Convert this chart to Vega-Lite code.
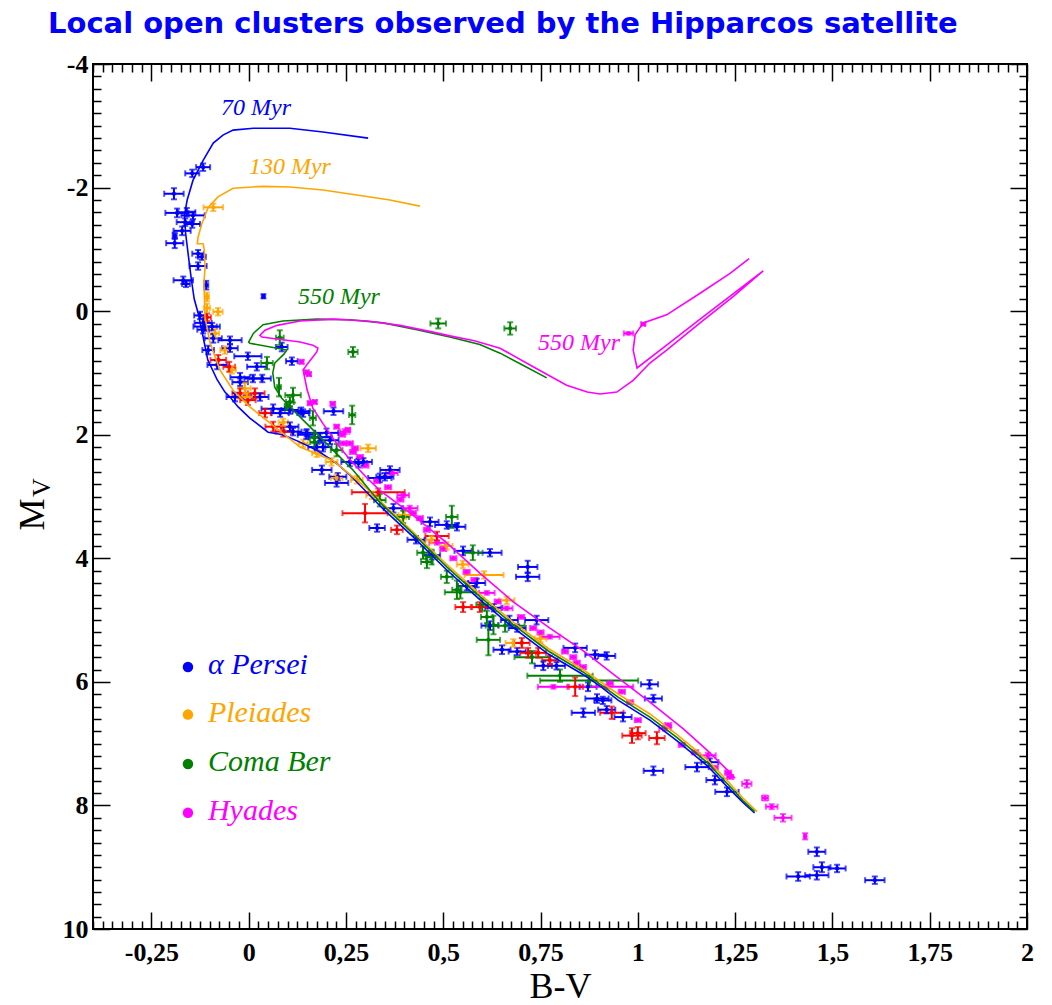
{
"$schema":"https://vega.github.io/schema/vega-lite/v6.json",
"width":934,"height":865,
"autosize":{"type":"none"},
"padding":{"left":93,"top":64,"right":25,"bottom":76},
"background":"white",
"title":{"text":"Local open clusters observed by the Hipparcos satellite","color":"#0000ff","font":"DejaVu Sans","fontSize":29,"fontWeight":"bold","anchor":"start","frame":"group","dx":-45,"offset":-11,"baseline":"alphabetic"},
"config":{"view":{"stroke":"black","strokeWidth":2}},
"datasets":{
"pts":[
{"c":"A","bv":-0.117,"mv":-2.33,"xe":0.018,"ye":0.06},
{"c":"A","bv":-0.145,"mv":-2.23,"xe":0.018,"ye":0.06},
{"c":"A","bv":-0.192,"mv":-1.9,"xe":0.025,"ye":0.09},
{"c":"A","bv":-0.184,"mv":-1.59,"xe":0.03,"ye":0.07},
{"c":"A","bv":-0.159,"mv":-1.6,"xe":0.022,"ye":0.07},
{"c":"A","bv":-0.143,"mv":-1.55,"xe":0.03,"ye":0.06},
{"c":"A","bv":-0.163,"mv":-1.44,"xe":0.022,"ye":0.06},
{"c":"A","bv":-0.145,"mv":-1.41,"xe":0.02,"ye":0.06},
{"c":"A","bv":-0.171,"mv":-1.3,"xe":0.022,"ye":0.07},
{"c":"A","bv":-0.19,"mv":-1.22,"xe":0.005,"ye":0.05},
{"c":"A","bv":-0.19,"mv":-1.1,"xe":0.022,"ye":0.08},
{"c":"A","bv":-0.13,"mv":-0.93,"xe":0.015,"ye":0.06},
{"c":"A","bv":-0.12,"mv":-0.88,"xe":0.01,"ye":0.05},
{"c":"A","bv":-0.13,"mv":-0.73,"xe":0.022,"ye":0.06},
{"c":"A","bv":-0.168,"mv":-0.5,"xe":0.025,"ye":0.06},
{"c":"A","bv":-0.161,"mv":-0.44,"xe":0.01,"ye":0.05},
{"c":"A","bv":-0.109,"mv":-0.42,"xe":0.005,"ye":0.07},
{"c":"A","bv":0.038,"mv":-0.24,"xe":0.003,"ye":0.03},
{"c":"A","bv":-0.125,"mv":0.07,"xe":0.015,"ye":0.06},
{"c":"A","bv":-0.117,"mv":0.19,"xe":0.022,"ye":0.07},
{"c":"A","bv":-0.112,"mv":0.25,"xe":0.03,"ye":0.07},
{"c":"A","bv":-0.094,"mv":0.25,"xe":0.02,"ye":0.06},
{"c":"A","bv":-0.117,"mv":0.3,"xe":0.015,"ye":0.06},
{"c":"A","bv":-0.091,"mv":0.44,"xe":0.022,"ye":0.07},
{"c":"A","bv":-0.048,"mv":0.47,"xe":0.03,"ye":0.06},
{"c":"A","bv":-0.104,"mv":0.63,"xe":0.015,"ye":0.07},
{"c":"A","bv":-0.048,"mv":0.6,"xe":0.02,"ye":0.06},
{"c":"A","bv":-0.002,"mv":0.73,"xe":0.035,"ye":0.06},
{"c":"A","bv":-0.081,"mv":0.87,"xe":0.025,"ye":0.07},
{"c":"A","bv":0.021,"mv":0.9,"xe":0.025,"ye":0.06},
{"c":"A","bv":0.085,"mv":0.58,"xe":0.015,"ye":0.07},
{"c":"A","bv":0.111,"mv":0.81,"xe":0.015,"ye":0.06},
{"c":"A","bv":-0.022,"mv":1.07,"xe":0.025,"ye":0.07},
{"c":"A","bv":-0.022,"mv":1.15,"xe":0.02,"ye":0.06},
{"c":"A","bv":0.011,"mv":1.09,"xe":0.022,"ye":0.06},
{"c":"A","bv":0.035,"mv":1.09,"xe":0.022,"ye":0.06},
{"c":"A","bv":-0.035,"mv":1.39,"xe":0.022,"ye":0.07},
{"c":"A","bv":0.029,"mv":1.39,"xe":0.022,"ye":0.06},
{"c":"A","bv":0.063,"mv":1.58,"xe":0.03,"ye":0.07},
{"c":"A","bv":0.106,"mv":1.6,"xe":0.022,"ye":0.06},
{"c":"A","bv":0.135,"mv":1.62,"xe":0.022,"ye":0.06},
{"c":"A","bv":0.081,"mv":1.65,"xe":0.022,"ye":0.06},
{"c":"A","bv":0.14,"mv":1.65,"xe":0.015,"ye":0.06},
{"c":"A","bv":0.106,"mv":1.87,"xe":0.022,"ye":0.07},
{"c":"A","bv":0.114,"mv":1.95,"xe":0.022,"ye":0.06},
{"c":"A","bv":0.218,"mv":1.62,"xe":0.025,"ye":0.06},
{"c":"A","bv":0.148,"mv":2.0,"xe":0.022,"ye":0.07},
{"c":"A","bv":0.183,"mv":2.04,"xe":0.03,"ye":0.06},
{"c":"A","bv":0.191,"mv":2.2,"xe":0.022,"ye":0.07},
{"c":"A","bv":0.209,"mv":2.09,"xe":0.022,"ye":0.06},
{"c":"A","bv":0.188,"mv":2.57,"xe":0.025,"ye":0.07},
{"c":"A","bv":0.226,"mv":2.78,"xe":0.03,"ye":0.06},
{"c":"A","bv":0.26,"mv":2.44,"xe":0.022,"ye":0.07},
{"c":"A","bv":0.282,"mv":2.46,"xe":0.022,"ye":0.07},
{"c":"A","bv":0.363,"mv":2.57,"xe":0.025,"ye":0.06},
{"c":"A","bv":0.337,"mv":2.7,"xe":0.03,"ye":0.07},
{"c":"A","bv":0.35,"mv":2.68,"xe":0.022,"ye":0.06},
{"c":"A","bv":0.149,"mv":1.97,"xe":0.022,"ye":0.06},
{"c":"A","bv":0.2,"mv":1.97,"xe":0.03,"ye":0.07},
{"c":"A","bv":0.175,"mv":2.2,"xe":0.022,"ye":0.06},
{"c":"A","bv":0.229,"mv":2.68,"xe":0.022,"ye":0.06},
{"c":"A","bv":0.295,"mv":2.44,"xe":0.022,"ye":0.06},
{"c":"A","bv":0.372,"mv":3.19,"xe":0.025,"ye":0.07},
{"c":"A","bv":0.33,"mv":3.51,"xe":0.02,"ye":0.06},
{"c":"A","bv":0.466,"mv":3.41,"xe":0.022,"ye":0.07},
{"c":"A","bv":0.509,"mv":3.46,"xe":0.03,"ye":0.06},
{"c":"A","bv":0.535,"mv":3.49,"xe":0.022,"ye":0.06},
{"c":"A","bv":0.551,"mv":3.88,"xe":0.022,"ye":0.07},
{"c":"A","bv":0.62,"mv":3.91,"xe":0.03,"ye":0.06},
{"c":"A","bv":0.717,"mv":4.14,"xe":0.025,"ye":0.1},
{"c":"A","bv":0.717,"mv":4.3,"xe":0.03,"ye":0.07},
{"c":"A","bv":0.586,"mv":4.4,"xe":0.022,"ye":0.07},
{"c":"A","bv":0.74,"mv":5.0,"xe":0.03,"ye":0.07},
{"c":"A","bv":0.62,"mv":5.09,"xe":0.022,"ye":0.07},
{"c":"A","bv":0.69,"mv":5.13,"xe":0.022,"ye":0.06},
{"c":"A","bv":0.651,"mv":5.48,"xe":0.022,"ye":0.07},
{"c":"A","bv":0.69,"mv":5.51,"xe":0.022,"ye":0.06},
{"c":"A","bv":0.839,"mv":5.45,"xe":0.03,"ye":0.07},
{"c":"A","bv":0.89,"mv":5.56,"xe":0.025,"ye":0.07},
{"c":"A","bv":0.92,"mv":5.58,"xe":0.022,"ye":0.06},
{"c":"A","bv":0.757,"mv":5.74,"xe":0.022,"ye":0.07},
{"c":"A","bv":0.791,"mv":5.74,"xe":0.022,"ye":0.06},
{"c":"A","bv":0.872,"mv":6.08,"xe":0.022,"ye":0.07},
{"c":"A","bv":1.03,"mv":6.04,"xe":0.022,"ye":0.07},
{"c":"A","bv":1.04,"mv":6.27,"xe":0.022,"ye":0.06},
{"c":"A","bv":0.895,"mv":6.27,"xe":0.03,"ye":0.07},
{"c":"A","bv":0.91,"mv":6.3,"xe":0.022,"ye":0.06},
{"c":"A","bv":0.86,"mv":6.5,"xe":0.03,"ye":0.07},
{"c":"A","bv":0.92,"mv":6.45,"xe":0.022,"ye":0.06},
{"c":"A","bv":0.962,"mv":6.57,"xe":0.022,"ye":0.07},
{"c":"A","bv":1.04,"mv":7.44,"xe":0.025,"ye":0.07},
{"c":"A","bv":1.152,"mv":7.38,"xe":0.03,"ye":0.07},
{"c":"A","bv":1.185,"mv":7.3,"xe":0.022,"ye":0.06},
{"c":"A","bv":1.198,"mv":7.59,"xe":0.022,"ye":0.07},
{"c":"A","bv":1.229,"mv":7.78,"xe":0.03,"ye":0.07},
{"c":"A","bv":1.46,"mv":8.75,"xe":0.022,"ye":0.07},
{"c":"A","bv":1.473,"mv":9.0,"xe":0.022,"ye":0.08},
{"c":"A","bv":1.512,"mv":9.02,"xe":0.022,"ye":0.06},
{"c":"A","bv":1.412,"mv":9.15,"xe":0.03,"ye":0.07},
{"c":"A","bv":1.46,"mv":9.13,"xe":0.03,"ye":0.07},
{"c":"A","bv":1.609,"mv":9.21,"xe":0.025,"ye":0.06},
{"c":"A","bv":0.43,"mv":3.7,"xe":0.022,"ye":0.06},
{"c":"A","bv":0.47,"mv":3.95,"xe":0.022,"ye":0.07},
{"c":"A","bv":0.56,"mv":4.45,"xe":0.022,"ye":0.07},
{"c":"A","bv":0.63,"mv":4.8,"xe":0.022,"ye":0.06},
{"c":"A","bv":0.67,"mv":5.0,"xe":0.022,"ye":0.07},
{"c":"P","bv":-0.091,"mv":-1.68,"xe":0.025,"ye":0.06},
{"c":"P","bv":-0.107,"mv":-0.23,"xe":0.005,"ye":0.07},
{"c":"P","bv":-0.107,"mv":-0.05,"xe":0.008,"ye":0.07},
{"c":"P","bv":-0.079,"mv":0.01,"xe":0.012,"ye":0.06},
{"c":"P","bv":-0.086,"mv":0.36,"xe":0.01,"ye":0.07},
{"c":"P","bv":-0.061,"mv":0.63,"xe":0.012,"ye":0.06},
{"c":"P","bv":-0.043,"mv":0.95,"xe":0.01,"ye":0.06},
{"c":"P","bv":-0.01,"mv":1.25,"xe":0.015,"ye":0.09},
{"c":"P","bv":-0.004,"mv":1.39,"xe":0.015,"ye":0.07},
{"c":"P","bv":0.089,"mv":1.8,"xe":0.012,"ye":0.06},
{"c":"P","bv":0.14,"mv":2.14,"xe":0.012,"ye":0.06},
{"c":"P","bv":0.175,"mv":2.3,"xe":0.012,"ye":0.06},
{"c":"P","bv":0.213,"mv":2.44,"xe":0.015,"ye":0.06},
{"c":"P","bv":0.307,"mv":2.22,"xe":0.02,"ye":0.06},
{"c":"P","bv":0.226,"mv":2.7,"xe":0.015,"ye":0.06},
{"c":"P","bv":0.278,"mv":2.73,"xe":0.015,"ye":0.06},
{"c":"P","bv":0.317,"mv":2.98,"xe":0.015,"ye":0.06},
{"c":"P","bv":0.509,"mv":3.8,"xe":0.015,"ye":0.06},
{"c":"P","bv":0.605,"mv":4.27,"xe":0.05,"ye":0.06},
{"c":"P","bv":0.663,"mv":4.68,"xe":0.02,"ye":0.06},
{"c":"P","bv":0.68,"mv":5.37,"xe":0.02,"ye":0.06},
{"c":"P","bv":0.4,"mv":3.3,"xe":0.015,"ye":0.06},
{"c":"P","bv":0.47,"mv":3.7,"xe":0.015,"ye":0.06},
{"c":"P","bv":0.75,"mv":5.3,"xe":0.015,"ye":0.06},
{"c":"P","bv":0.55,"mv":4.1,"xe":0.015,"ye":0.06},
{"c":"C","bv":0.487,"mv":0.2,"xe":0.02,"ye":0.08},
{"c":"C","bv":0.672,"mv":0.28,"xe":0.015,"ye":0.1},
{"c":"C","bv":0.268,"mv":0.66,"xe":0.012,"ye":0.08},
{"c":"C","bv":0.08,"mv":0.43,"xe":0.01,"ye":0.12},
{"c":"C","bv":0.047,"mv":0.84,"xe":0.015,"ye":0.1},
{"c":"C","bv":0.078,"mv":1.23,"xe":0.005,"ye":0.15},
{"c":"C","bv":0.114,"mv":1.36,"xe":0.02,"ye":0.12},
{"c":"C","bv":0.106,"mv":1.47,"xe":0.01,"ye":0.08},
{"c":"C","bv":0.098,"mv":1.55,"xe":0.005,"ye":0.05},
{"c":"C","bv":0.165,"mv":1.73,"xe":0.008,"ye":0.12},
{"c":"C","bv":0.266,"mv":1.68,"xe":0.008,"ye":0.15},
{"c":"C","bv":0.168,"mv":2.05,"xe":0.012,"ye":0.08},
{"c":"C","bv":0.17,"mv":2.12,"xe":0.012,"ye":0.08},
{"c":"C","bv":0.226,"mv":2.25,"xe":0.015,"ye":0.1},
{"c":"C","bv":0.337,"mv":3.06,"xe":0.015,"ye":0.1},
{"c":"C","bv":0.397,"mv":3.33,"xe":0.015,"ye":0.1},
{"c":"C","bv":0.522,"mv":3.33,"xe":0.015,"ye":0.18},
{"c":"C","bv":0.576,"mv":3.91,"xe":0.025,"ye":0.12},
{"c":"C","bv":0.448,"mv":3.91,"xe":0.015,"ye":0.1},
{"c":"C","bv":0.458,"mv":4.06,"xe":0.015,"ye":0.1},
{"c":"C","bv":0.509,"mv":4.3,"xe":0.015,"ye":0.1},
{"c":"C","bv":0.535,"mv":4.51,"xe":0.012,"ye":0.15},
{"c":"C","bv":0.544,"mv":4.55,"xe":0.04,"ye":0.1},
{"c":"C","bv":0.612,"mv":4.95,"xe":0.015,"ye":0.1},
{"c":"C","bv":0.629,"mv":5.08,"xe":0.012,"ye":0.15},
{"c":"C","bv":0.659,"mv":5.09,"xe":0.05,"ye":0.1},
{"c":"C","bv":0.616,"mv":5.32,"xe":0.03,"ye":0.25},
{"c":"C","bv":0.728,"mv":5.6,"xe":0.045,"ye":0.1},
{"c":"C","bv":0.8,"mv":5.9,"xe":0.084,"ye":0.1},
{"c":"C","bv":0.875,"mv":5.98,"xe":0.126,"ye":0.08},
{"c":"C","bv":0.6,"mv":4.75,"xe":0.015,"ye":0.1},
{"c":"C","bv":0.47,"mv":3.98,"xe":0.015,"ye":0.12},
{"c":"H","bv":0.976,"mv":0.36,"xe":0.012,"ye":0.02},
{"c":"H","bv":1.014,"mv":0.21,"xe":0.005,"ye":0.02},
{"c":"H","bv":0.136,"mv":0.82,"xe":0.005,"ye":0.03},
{"c":"H","bv":0.149,"mv":0.99,"xe":0.005,"ye":0.03},
{"c":"H","bv":0.155,"mv":1.02,"xe":0.005,"ye":0.03},
{"c":"H","bv":0.157,"mv":1.49,"xe":0.005,"ye":0.03},
{"c":"H","bv":0.17,"mv":1.47,"xe":0.005,"ye":0.03},
{"c":"H","bv":0.216,"mv":1.5,"xe":0.006,"ye":0.03},
{"c":"H","bv":0.226,"mv":1.87,"xe":0.006,"ye":0.03},
{"c":"H","bv":0.247,"mv":1.95,"xe":0.012,"ye":0.04},
{"c":"H","bv":0.255,"mv":1.92,"xe":0.006,"ye":0.03},
{"c":"H","bv":0.243,"mv":2.14,"xe":0.008,"ye":0.03},
{"c":"H","bv":0.26,"mv":2.14,"xe":0.008,"ye":0.03},
{"c":"H","bv":0.268,"mv":2.28,"xe":0.008,"ye":0.03},
{"c":"H","bv":0.286,"mv":2.36,"xe":0.008,"ye":0.03},
{"c":"H","bv":0.24,"mv":2.0,"xe":0.008,"ye":0.03},
{"c":"H","bv":0.273,"mv":2.22,"xe":0.008,"ye":0.03},
{"c":"H","bv":0.368,"mv":2.62,"xe":0.015,"ye":0.03},
{"c":"H","bv":0.358,"mv":2.85,"xe":0.008,"ye":0.03},
{"c":"H","bv":0.397,"mv":2.98,"xe":0.015,"ye":0.03},
{"c":"H","bv":0.414,"mv":3.19,"xe":0.02,"ye":0.04},
{"c":"H","bv":0.422,"mv":3.27,"xe":0.008,"ye":0.03},
{"c":"H","bv":0.44,"mv":3.35,"xe":0.008,"ye":0.03},
{"c":"H","bv":0.458,"mv":3.54,"xe":0.008,"ye":0.03},
{"c":"H","bv":0.484,"mv":3.75,"xe":0.02,"ye":0.03},
{"c":"H","bv":0.526,"mv":4.0,"xe":0.008,"ye":0.03},
{"c":"H","bv":0.56,"mv":4.22,"xe":0.008,"ye":0.03},
{"c":"H","bv":0.612,"mv":4.56,"xe":0.02,"ye":0.03},
{"c":"H","bv":0.663,"mv":4.81,"xe":0.015,"ye":0.03},
{"c":"H","bv":0.731,"mv":5.13,"xe":0.008,"ye":0.03},
{"c":"H","bv":0.774,"mv":5.27,"xe":0.025,"ye":0.03},
{"c":"H","bv":0.813,"mv":5.51,"xe":0.008,"ye":0.03},
{"c":"H","bv":0.834,"mv":5.6,"xe":0.008,"ye":0.03},
{"c":"H","bv":0.843,"mv":5.69,"xe":0.008,"ye":0.03},
{"c":"H","bv":0.859,"mv":5.76,"xe":0.008,"ye":0.03},
{"c":"H","bv":0.783,"mv":6.08,"xe":0.04,"ye":0.03},
{"c":"H","bv":0.92,"mv":6.08,"xe":0.068,"ye":0.03},
{"c":"H","bv":0.928,"mv":6.02,"xe":0.008,"ye":0.03},
{"c":"H","bv":0.959,"mv":6.16,"xe":0.008,"ye":0.03},
{"c":"H","bv":0.98,"mv":6.33,"xe":0.008,"ye":0.03},
{"c":"H","bv":1.0,"mv":6.62,"xe":0.008,"ye":0.03},
{"c":"H","bv":1.07,"mv":6.75,"xe":0.015,"ye":0.04},
{"c":"H","bv":1.078,"mv":6.7,"xe":0.008,"ye":0.03},
{"c":"H","bv":1.113,"mv":7.02,"xe":0.008,"ye":0.03},
{"c":"H","bv":1.147,"mv":7.14,"xe":0.008,"ye":0.03},
{"c":"H","bv":1.18,"mv":7.19,"xe":0.02,"ye":0.04},
{"c":"H","bv":1.198,"mv":7.39,"xe":0.008,"ye":0.03},
{"c":"H","bv":1.232,"mv":7.47,"xe":0.008,"ye":0.03},
{"c":"H","bv":1.237,"mv":7.54,"xe":0.008,"ye":0.03},
{"c":"H","bv":1.28,"mv":7.65,"xe":0.012,"ye":0.06},
{"c":"H","bv":1.327,"mv":7.88,"xe":0.008,"ye":0.04},
{"c":"H","bv":1.344,"mv":8.02,"xe":0.015,"ye":0.04},
{"c":"H","bv":1.373,"mv":8.2,"xe":0.022,"ye":0.06},
{"c":"H","bv":1.43,"mv":8.5,"xe":0.003,"ye":0.05},
{"c":"H","bv":0.3,"mv":2.5,"xe":0.008,"ye":0.03},
{"c":"H","bv":0.33,"mv":2.75,"xe":0.008,"ye":0.03},
{"c":"H","bv":0.39,"mv":3.05,"xe":0.008,"ye":0.03},
{"c":"H","bv":0.5,"mv":3.85,"xe":0.008,"ye":0.03},
{"c":"H","bv":0.58,"mv":4.35,"xe":0.008,"ye":0.03},
{"c":"H","bv":0.64,"mv":4.7,"xe":0.008,"ye":0.03},
{"c":"H","bv":0.7,"mv":4.95,"xe":0.008,"ye":0.03},
{"c":"H","bv":0.75,"mv":5.2,"xe":0.008,"ye":0.03},
{"c":"R","bv":-0.107,"mv":0.1,"xe":0.01,"ye":0.06},
{"c":"R","bv":-0.078,"mv":0.79,"xe":0.02,"ye":0.08},
{"c":"R","bv":-0.05,"mv":0.9,"xe":0.015,"ye":0.08},
{"c":"R","bv":-0.022,"mv":1.33,"xe":0.02,"ye":0.08},
{"c":"R","bv":0.016,"mv":1.33,"xe":0.025,"ye":0.08},
{"c":"R","bv":-0.002,"mv":1.44,"xe":0.02,"ye":0.08},
{"c":"R","bv":0.042,"mv":1.65,"xe":0.015,"ye":0.07},
{"c":"R","bv":0.063,"mv":1.87,"xe":0.02,"ye":0.08},
{"c":"R","bv":0.089,"mv":1.95,"xe":0.02,"ye":0.08},
{"c":"R","bv":0.333,"mv":2.93,"xe":0.068,"ye":0.06},
{"c":"R","bv":0.299,"mv":3.27,"xe":0.058,"ye":0.15},
{"c":"R","bv":0.381,"mv":3.54,"xe":0.015,"ye":0.07},
{"c":"R","bv":0.484,"mv":3.64,"xe":0.03,"ye":0.07},
{"c":"R","bv":0.551,"mv":4.79,"xe":0.02,"ye":0.08},
{"c":"R","bv":0.594,"mv":4.79,"xe":0.02,"ye":0.08},
{"c":"R","bv":0.702,"mv":5.37,"xe":0.02,"ye":0.08},
{"c":"R","bv":0.718,"mv":5.53,"xe":0.02,"ye":0.08},
{"c":"R","bv":0.744,"mv":5.53,"xe":0.02,"ye":0.08},
{"c":"R","bv":0.774,"mv":5.65,"xe":0.02,"ye":0.07},
{"c":"R","bv":0.839,"mv":6.08,"xe":0.02,"ye":0.15},
{"c":"R","bv":0.933,"mv":6.5,"xe":0.03,"ye":0.1},
{"c":"R","bv":0.985,"mv":6.87,"xe":0.025,"ye":0.12},
{"c":"R","bv":1.0,"mv":6.83,"xe":0.02,"ye":0.1},
{"c":"R","bv":1.049,"mv":6.91,"xe":0.02,"ye":0.1}
],
"iso":[
{"c":"A","o":1,"bv":0.307,"mv":-2.8},{"c":"A","o":2,"bv":0.191,"mv":-2.9},{"c":"A","o":3,"bv":0.106,"mv":-2.96},{"c":"A","o":4,"bv":0.012,"mv":-2.96},{"c":"A","o":5,"bv":-0.04,"mv":-2.93},{"c":"A","o":6,"bv":-0.066,"mv":-2.85},{"c":"A","o":7,"bv":-0.091,"mv":-2.72},{"c":"A","o":8,"bv":-0.117,"mv":-2.44},{"c":"A","o":9,"bv":-0.143,"mv":-2.12},{"c":"A","o":10,"bv":-0.158,"mv":-1.8},{"c":"A","o":11,"bv":-0.165,"mv":-1.55},{"c":"A","o":12,"bv":-0.162,"mv":-1.26},{"c":"A","o":13,"bv":-0.155,"mv":-0.9},{"c":"A","o":14,"bv":-0.147,"mv":-0.5},{"c":"A","o":15,"bv":-0.14,"mv":-0.2},{"c":"A","o":16,"bv":-0.13,"mv":0.03},{"c":"A","o":17,"bv":-0.117,"mv":0.42},{"c":"A","o":18,"bv":-0.105,"mv":0.79},{"c":"A","o":19,"bv":-0.081,"mv":1.11},{"c":"A","o":20,"bv":-0.061,"mv":1.31},{"c":"A","o":21,"bv":-0.048,"mv":1.39},{"c":"A","o":22,"bv":-0.027,"mv":1.55},{"c":"A","o":23,"bv":0.003,"mv":1.73},{"c":"A","o":24,"bv":0.05,"mv":1.96},{"c":"A","o":25,"bv":0.088,"mv":2.0},{"c":"A","o":26,"bv":0.132,"mv":2.12},{"c":"A","o":27,"bv":0.175,"mv":2.25},{"c":"A","o":28,"bv":0.227,"mv":2.47},{"c":"A","o":29,"bv":0.265,"mv":2.68},{"c":"A","o":30,"bv":0.337,"mv":3.15},{"c":"A","o":31,"bv":0.422,"mv":3.65},{"c":"A","o":32,"bv":0.509,"mv":4.19},{"c":"A","o":33,"bv":0.594,"mv":4.67},{"c":"A","o":34,"bv":0.679,"mv":5.12},{"c":"A","o":35,"bv":0.77,"mv":5.55},{"c":"A","o":36,"bv":0.859,"mv":5.88},{"c":"A","o":37,"bv":0.903,"mv":6.07},{"c":"A","o":38,"bv":0.95,"mv":6.3},{"c":"A","o":39,"bv":1.031,"mv":6.62},{"c":"A","o":40,"bv":1.1,"mv":6.95},{"c":"A","o":41,"bv":1.177,"mv":7.35},{"c":"A","o":42,"bv":1.23,"mv":7.7},{"c":"A","o":43,"bv":1.27,"mv":7.95},{"c":"A","o":44,"bv":1.3,"mv":8.12},
{"c":"P","o":1,"bv":0.44,"mv":-1.7},{"c":"P","o":2,"bv":0.363,"mv":-1.8},{"c":"P","o":3,"bv":0.278,"mv":-1.88},{"c":"P","o":4,"bv":0.191,"mv":-1.96},{"c":"P","o":5,"bv":0.106,"mv":-2.01},{"c":"P","o":6,"bv":0.037,"mv":-2.02},{"c":"P","o":7,"bv":-0.04,"mv":-1.99},{"c":"P","o":8,"bv":-0.079,"mv":-1.85},{"c":"P","o":9,"bv":-0.104,"mv":-1.68},{"c":"P","o":10,"bv":-0.12,"mv":-1.42},{"c":"P","o":11,"bv":-0.13,"mv":-1.2},{"c":"P","o":12,"bv":-0.132,"mv":-1.09},{"c":"P","o":13,"bv":-0.117,"mv":-1.09},{"c":"P","o":14,"bv":-0.114,"mv":-0.99},{"c":"P","o":15,"bv":-0.112,"mv":-0.71},{"c":"P","o":16,"bv":-0.115,"mv":-0.45},{"c":"P","o":17,"bv":-0.112,"mv":0.1},{"c":"P","o":18,"bv":-0.099,"mv":0.52},{"c":"P","o":19,"bv":-0.074,"mv":0.95},{"c":"P","o":20,"bv":-0.04,"mv":1.28},{"c":"P","o":21,"bv":0.003,"mv":1.55},{"c":"P","o":22,"bv":0.073,"mv":1.9},{"c":"P","o":23,"bv":0.132,"mv":2.2},{"c":"P","o":24,"bv":0.217,"mv":2.42},{"c":"P","o":25,"bv":0.295,"mv":2.82},{"c":"P","o":26,"bv":0.337,"mv":3.07},{"c":"P","o":27,"bv":0.422,"mv":3.57},{"c":"P","o":28,"bv":0.509,"mv":4.1},{"c":"P","o":29,"bv":0.594,"mv":4.58},{"c":"P","o":30,"bv":0.679,"mv":5.03},{"c":"P","o":31,"bv":0.77,"mv":5.46},{"c":"P","o":32,"bv":0.859,"mv":5.8},{"c":"P","o":33,"bv":0.95,"mv":6.2},{"c":"P","o":34,"bv":1.031,"mv":6.52},{"c":"P","o":35,"bv":1.1,"mv":6.85},{"c":"P","o":36,"bv":1.177,"mv":7.25},{"c":"P","o":37,"bv":1.23,"mv":7.6},{"c":"P","o":38,"bv":1.27,"mv":7.88},{"c":"P","o":39,"bv":1.306,"mv":8.1},
{"c":"C","o":1,"bv":0.766,"mv":1.08},{"c":"C","o":2,"bv":0.7,"mv":0.86},{"c":"C","o":3,"bv":0.646,"mv":0.68},{"c":"C","o":4,"bv":0.594,"mv":0.54},{"c":"C","o":5,"bv":0.517,"mv":0.42},{"c":"C","o":6,"bv":0.432,"mv":0.3},{"c":"C","o":7,"bv":0.346,"mv":0.19},{"c":"C","o":8,"bv":0.26,"mv":0.14},{"c":"C","o":9,"bv":0.175,"mv":0.13},{"c":"C","o":10,"bv":0.088,"mv":0.16},{"c":"C","o":11,"bv":0.037,"mv":0.22},{"c":"C","o":12,"bv":0.012,"mv":0.36},{"c":"C","o":13,"bv":0.0,"mv":0.5},{"c":"C","o":14,"bv":0.003,"mv":0.52},{"c":"C","o":15,"bv":0.098,"mv":0.63},{"c":"C","o":16,"bv":0.09,"mv":0.7},{"c":"C","o":17,"bv":0.067,"mv":0.84},{"c":"C","o":18,"bv":0.062,"mv":1.0},{"c":"C","o":19,"bv":0.067,"mv":1.23},{"c":"C","o":20,"bv":0.085,"mv":1.41},{"c":"C","o":21,"bv":0.114,"mv":1.6},{"c":"C","o":22,"bv":0.157,"mv":1.87},{"c":"C","o":23,"bv":0.209,"mv":2.2},{"c":"C","o":24,"bv":0.268,"mv":2.57},{"c":"C","o":25,"bv":0.338,"mv":3.1},{"c":"C","o":26,"bv":0.422,"mv":3.6},{"c":"C","o":27,"bv":0.509,"mv":4.14},{"c":"C","o":28,"bv":0.594,"mv":4.62},{"c":"C","o":29,"bv":0.679,"mv":5.07},{"c":"C","o":30,"bv":0.77,"mv":5.5},{"c":"C","o":31,"bv":0.859,"mv":5.84},{"c":"C","o":32,"bv":0.95,"mv":6.25},{"c":"C","o":33,"bv":1.031,"mv":6.57},{"c":"C","o":34,"bv":1.1,"mv":6.9},{"c":"C","o":35,"bv":1.177,"mv":7.3},{"c":"C","o":36,"bv":1.23,"mv":7.65},{"c":"C","o":37,"bv":1.27,"mv":7.92},{"c":"C","o":38,"bv":1.3,"mv":8.1},
{"c":"H","o":1,"bv":1.25,"mv":7.56},{"c":"H","o":2,"bv":1.229,"mv":7.42},{"c":"H","o":3,"bv":1.177,"mv":7.1},{"c":"H","o":4,"bv":1.117,"mv":6.76},{"c":"H","o":5,"bv":1.031,"mv":6.33},{"c":"H","o":6,"bv":0.946,"mv":5.92},{"c":"H","o":7,"bv":0.86,"mv":5.5},{"c":"H","o":8,"bv":0.774,"mv":5.13},{"c":"H","o":9,"bv":0.679,"mv":4.7},{"c":"H","o":10,"bv":0.594,"mv":4.24},{"c":"H","o":11,"bv":0.509,"mv":3.75},{"c":"H","o":12,"bv":0.422,"mv":3.3},{"c":"H","o":13,"bv":0.337,"mv":2.9},{"c":"H","o":14,"bv":0.304,"mv":2.7},{"c":"H","o":15,"bv":0.261,"mv":2.41},{"c":"H","o":16,"bv":0.226,"mv":2.14},{"c":"H","o":17,"bv":0.191,"mv":1.82},{"c":"H","o":18,"bv":0.165,"mv":1.57},{"c":"H","o":19,"bv":0.15,"mv":1.27},{"c":"H","o":20,"bv":0.14,"mv":0.95},{"c":"H","o":21,"bv":0.153,"mv":0.84},{"c":"H","o":22,"bv":0.175,"mv":0.66},{"c":"H","o":23,"bv":0.178,"mv":0.6},{"c":"H","o":24,"bv":0.165,"mv":0.55},{"c":"H","o":25,"bv":0.132,"mv":0.5},{"c":"H","o":26,"bv":0.073,"mv":0.45},{"c":"H","o":27,"bv":0.034,"mv":0.42},{"c":"H","o":28,"bv":0.029,"mv":0.39},{"c":"H","o":29,"bv":0.042,"mv":0.31},{"c":"H","o":30,"bv":0.073,"mv":0.23},{"c":"H","o":31,"bv":0.132,"mv":0.16},{"c":"H","o":32,"bv":0.217,"mv":0.13},{"c":"H","o":33,"bv":0.304,"mv":0.16},{"c":"H","o":34,"bv":0.389,"mv":0.23},{"c":"H","o":35,"bv":0.474,"mv":0.34},{"c":"H","o":36,"bv":0.517,"mv":0.4},{"c":"H","o":37,"bv":0.58,"mv":0.48},{"c":"H","o":38,"bv":0.646,"mv":0.6},{"c":"H","o":39,"bv":0.731,"mv":0.9},{"c":"H","o":40,"bv":0.817,"mv":1.2},{"c":"H","o":41,"bv":0.87,"mv":1.31},{"c":"H","o":42,"bv":0.903,"mv":1.34},{"c":"H","o":43,"bv":0.946,"mv":1.31},{"c":"H","o":44,"bv":0.988,"mv":1.12},{"c":"H","o":45,"bv":1.031,"mv":0.84},{"c":"H","o":46,"bv":1.074,"mv":0.63},{"c":"H","o":47,"bv":1.16,"mv":0.19},{"c":"H","o":48,"bv":1.244,"mv":-0.23},{"c":"H","o":49,"bv":1.322,"mv":-0.65},{"c":"H","o":50,"bv":1.16,"mv":0.13},{"c":"H","o":51,"bv":1.074,"mv":0.55},{"c":"H","o":52,"bv":0.998,"mv":0.92},{"c":"H","o":53,"bv":0.988,"mv":0.63},{"c":"H","o":54,"bv":0.993,"mv":0.38},{"c":"H","o":55,"bv":1.014,"mv":0.19},{"c":"H","o":56,"bv":1.074,"mv":0.06},{"c":"H","o":57,"bv":1.16,"mv":-0.29},{"c":"H","o":58,"bv":1.237,"mv":-0.61},{"c":"H","o":59,"bv":1.286,"mv":-0.85}
],
"lab":[
{"c":"A","bv":0.019,"mv":-3.29,"t":"70 Myr"},
{"c":"P","bv":0.106,"mv":-2.33,"t":"130 Myr"},
{"c":"C","bv":0.232,"mv":-0.23,"t":"550 Myr"},
{"c":"H","bv":0.849,"mv":0.52,"t":"550 Myr"}
],
"leg":[
{"c":"A","bv":-0.156,"mv":5.76,"t":"α Persei"},
{"c":"P","bv":-0.156,"mv":6.53,"t":"Pleiades"},
{"c":"C","bv":-0.156,"mv":7.33,"t":"Coma Ber"},
{"c":"H","bv":-0.156,"mv":8.12,"t":"Hyades"}
]
},
"layer":[
{
"data":{"name":"pts"},
"mark":{"type":"errorbar","thickness":2,"ticks":{"size":6}},
"encoding":{
"x":{"field":"bv","type":"quantitative","scale":{"domain":[-0.4,2],"nice":false,"zero":false},"axis":null},
"xError":{"field":"xe"},
"y":{"field":"mv","type":"quantitative","scale":{"domain":[-4,10],"reverse":true,"nice":false,"zero":false},"axis":null},
"color":{"field":"c","type":"nominal","scale":{"domain":["A","P","C","H","R"],"range":["#0000ff","#ffa500","#008000","#ff00ff","#ff0000"]},"legend":null}
}
},
{
"data":{"name":"pts"},
"mark":{"type":"errorbar","thickness":2,"ticks":{"size":6}},
"encoding":{
"x":{"field":"bv","type":"quantitative","scale":{"domain":[-0.4,2],"nice":false,"zero":false},"axis":null},
"y":{"field":"mv","type":"quantitative","scale":{"domain":[-4,10],"reverse":true,"nice":false,"zero":false},"axis":null},
"yError":{"field":"ye"},
"color":{"field":"c","type":"nominal","legend":null}
}
},
{
"data":{"name":"pts"},
"mark":{"type":"circle","size":18,"opacity":1},
"encoding":{
"x":{"field":"bv","type":"quantitative","axis":{"orient":"bottom","values":[-0.4,-0.375,-0.35,-0.325,-0.3,-0.275,-0.25,-0.225,-0.2,-0.175,-0.15,-0.125,-0.1,-0.075,-0.05,-0.025,0,0.025,0.05,0.075,0.1,0.125,0.15,0.175,0.2,0.225,0.25,0.275,0.3,0.325,0.35,0.375,0.4,0.425,0.45,0.475,0.5,0.525,0.55,0.575,0.6,0.625,0.65,0.675,0.7,0.725,0.75,0.775,0.8,0.825,0.85,0.875,0.9,0.925,0.95,0.975,1,1.025,1.05,1.075,1.1,1.125,1.15,1.175,1.2,1.225,1.25,1.275,1.3,1.325,1.35,1.375,1.4,1.425,1.45,1.475,1.5,1.525,1.55,1.575,1.6,1.625,1.65,1.675,1.7,1.725,1.75,1.775,1.8,1.825,1.85,1.875,1.9,1.925,1.95,1.975,2],"labels":false,"domain":false,"grid":false,"ticks":true,"tickColor":"black","tickWidth":1.5,"tickSize":{"condition":{"test":"abs(datum.value*4-round(datum.value*4))<0.01","value":-17},"value":-8},"title":null}},
"y":{"field":"mv","type":"quantitative","axis":{"orient":"left","values":[-4,-3.8,-3.6,-3.4,-3.2,-3,-2.8,-2.6,-2.4,-2.2,-2,-1.8,-1.6,-1.4,-1.2,-1,-0.8,-0.6,-0.4,-0.2,0,0.2,0.4,0.6,0.8,1,1.2,1.4,1.6,1.8,2,2.2,2.4,2.6,2.8,3,3.2,3.4,3.6,3.8,4,4.2,4.4,4.6,4.8,5,5.2,5.4,5.6,5.8,6,6.2,6.4,6.6,6.8,7,7.2,7.4,7.6,7.8,8,8.2,8.4,8.6,8.8,9,9.2,9.4,9.6,9.8,10],"labels":false,"domain":false,"grid":false,"ticks":true,"tickColor":"black","tickWidth":1.5,"tickSize":{"condition":{"test":"abs(datum.value/2-round(datum.value/2))<0.01","value":-17},"value":-8},"title":"V","titleFont":"Liberation Serif","titleFontSize":26,"titleFontWeight":"normal","titleColor":"black","titleAngle":270,"titleAlign":"center","titleBaseline":"alphabetic","titleX":-44,"titleY":423}},
"color":{"field":"c","type":"nominal","legend":null}
}
},
{
"data":{"name":"iso"},
"mark":{"type":"line","strokeWidth":1.6,"interpolate":"linear"},
"encoding":{
"x":{"field":"bv","type":"quantitative","axis":{"orient":"bottom","values":[-0.25,0,0.25,0.5,0.75,1,1.25,1.5,1.75,2],"ticks":false,"domain":false,"grid":false,"labelExpr":"replace(toString(datum.value),'.',',')","labelFont":"Liberation Serif","labelFontSize":26,"labelFontWeight":"bold","labelColor":"black","labelPadding":10,"labelFlush":false,"labelOverlap":false,"title":"B-V","titleFont":"Liberation Serif","titleFontSize":36,"titleFontWeight":"normal","titleColor":"black","titlePadding":4}},
"y":{"field":"mv","type":"quantitative","axis":{"orient":"left","values":[-4,-2,0,2,4,6,8,10],"ticks":false,"domain":false,"grid":false,"labelExpr":"toString(datum.value)","labelFont":"Liberation Serif","labelFontSize":26,"labelFontWeight":"bold","labelColor":"black","labelPadding":5,"labelFlush":false,"labelOverlap":false,"title":"M","titleFont":"Liberation Serif","titleFontSize":36,"titleFontWeight":"normal","titleColor":"black","titleAngle":270,"titleAlign":"center","titleBaseline":"alphabetic","titleX":-50,"titleY":450}},
"color":{"field":"c","type":"nominal","legend":null},
"detail":{"field":"c"},
"order":{"field":"o","type":"quantitative"}
}
},
{
"data":{"name":"lab"},
"mark":{"type":"text","font":"Liberation Serif","fontSize":24,"fontStyle":"italic","align":"center","baseline":"middle"},
"encoding":{
"x":{"field":"bv","type":"quantitative","axis":{"orient":"top","values":[-0.4,-0.375,-0.35,-0.325,-0.3,-0.275,-0.25,-0.225,-0.2,-0.175,-0.15,-0.125,-0.1,-0.075,-0.05,-0.025,0,0.025,0.05,0.075,0.1,0.125,0.15,0.175,0.2,0.225,0.25,0.275,0.3,0.325,0.35,0.375,0.4,0.425,0.45,0.475,0.5,0.525,0.55,0.575,0.6,0.625,0.65,0.675,0.7,0.725,0.75,0.775,0.8,0.825,0.85,0.875,0.9,0.925,0.95,0.975,1,1.025,1.05,1.075,1.1,1.125,1.15,1.175,1.2,1.225,1.25,1.275,1.3,1.325,1.35,1.375,1.4,1.425,1.45,1.475,1.5,1.525,1.55,1.575,1.6,1.625,1.65,1.675,1.7,1.725,1.75,1.775,1.8,1.825,1.85,1.875,1.9,1.925,1.95,1.975,2],"labels":false,"domain":false,"grid":false,"ticks":true,"tickColor":"black","tickWidth":1.5,"tickSize":{"condition":{"test":"abs(datum.value*4-round(datum.value*4))<0.01","value":-17},"value":-8},"title":null}},
"y":{"field":"mv","type":"quantitative","axis":{"orient":"right","values":[-4,-3.8,-3.6,-3.4,-3.2,-3,-2.8,-2.6,-2.4,-2.2,-2,-1.8,-1.6,-1.4,-1.2,-1,-0.8,-0.6,-0.4,-0.2,0,0.2,0.4,0.6,0.8,1,1.2,1.4,1.6,1.8,2,2.2,2.4,2.6,2.8,3,3.2,3.4,3.6,3.8,4,4.2,4.4,4.6,4.8,5,5.2,5.4,5.6,5.8,6,6.2,6.4,6.6,6.8,7,7.2,7.4,7.6,7.8,8,8.2,8.4,8.6,8.8,9,9.2,9.4,9.6,9.8,10],"labels":false,"domain":false,"grid":false,"ticks":true,"tickColor":"black","tickWidth":1.5,"tickSize":{"condition":{"test":"abs(datum.value/2-round(datum.value/2))<0.01","value":-17},"value":-8},"title":null}},
"text":{"field":"t"},
"color":{"field":"c","type":"nominal","legend":null}
}
},
{
"data":{"name":"leg"},
"mark":{"type":"circle","size":110,"opacity":1},
"encoding":{
"x":{"field":"bv","type":"quantitative","axis":null},
"y":{"field":"mv","type":"quantitative","axis":null},
"color":{"field":"c","type":"nominal","legend":null}
}
},
{
"data":{"name":"leg"},
"mark":{"type":"text","font":"Liberation Serif","fontSize":30,"fontStyle":"italic","align":"left","baseline":"alphabetic","dx":20,"dy":7},
"encoding":{
"x":{"field":"bv","type":"quantitative","axis":null},
"y":{"field":"mv","type":"quantitative","axis":null},
"text":{"field":"t"},
"color":{"field":"c","type":"nominal","legend":null}
}
}
],
"resolve":{"axis":{"x":"independent","y":"independent"}}
}
